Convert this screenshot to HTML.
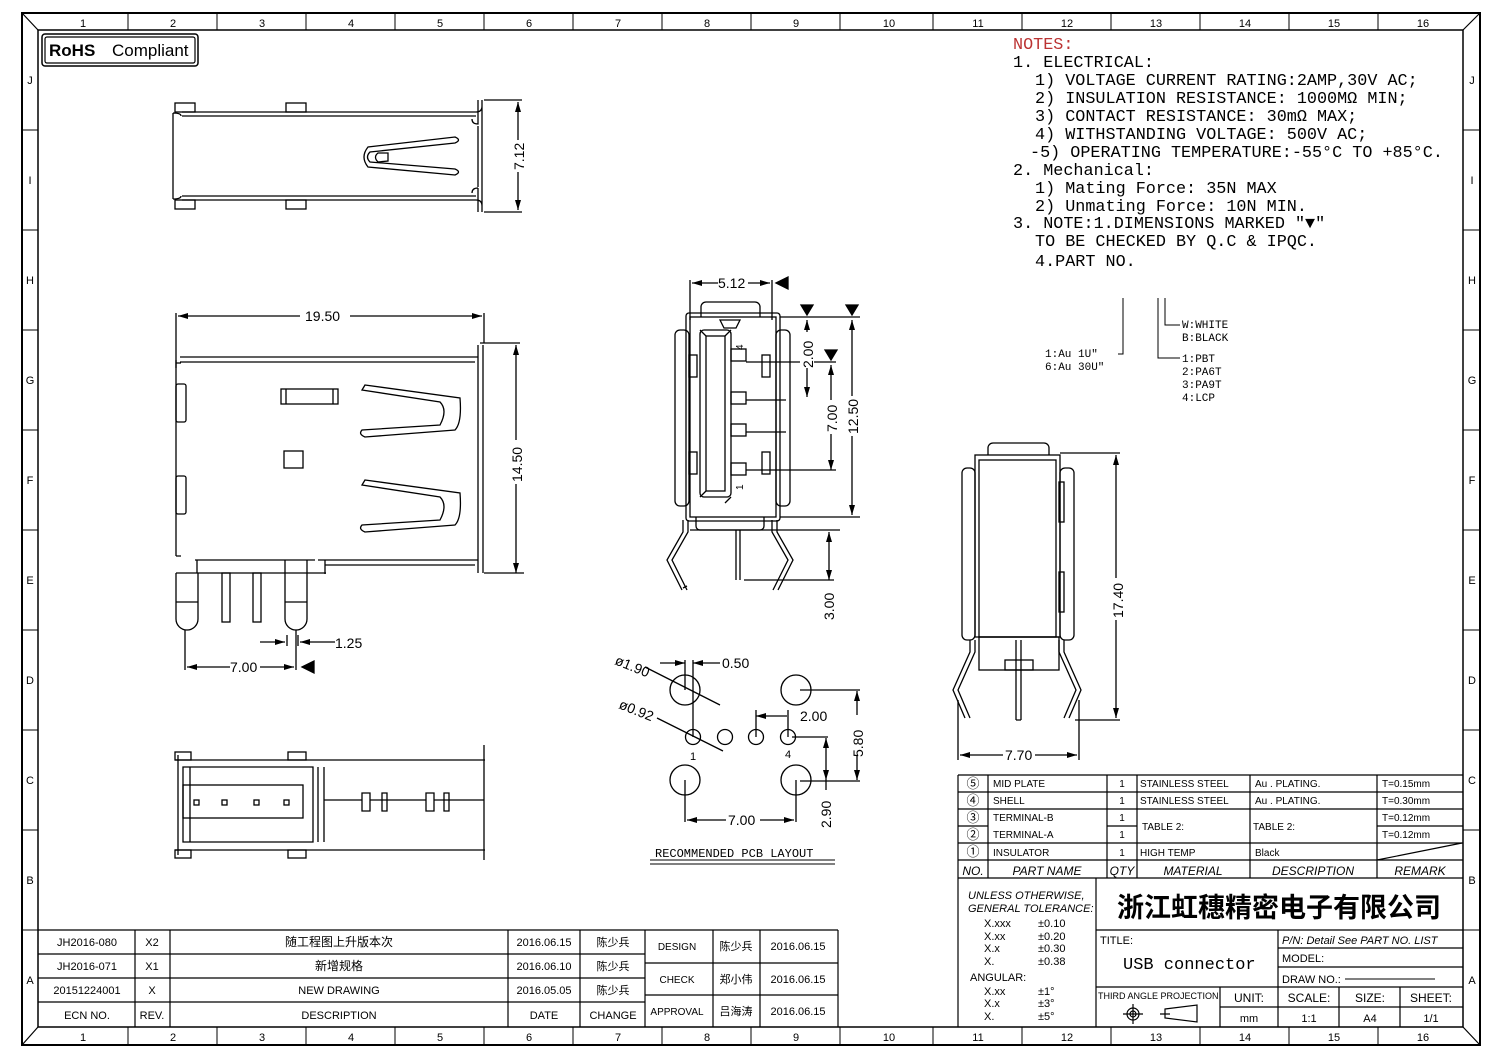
<!DOCTYPE html>
<html><head><meta charset="utf-8"><style>
html,body{margin:0;padding:0;background:#fff}
svg{display:block}
text{font-family:"Liberation Sans","Noto Sans CJK SC",sans-serif;fill:#000}
.m{font-family:"Liberation Mono","Noto Sans CJK SC",monospace}
</style></head><body>
<svg width="1502" height="1059" viewBox="0 0 1502 1059" xmlns="http://www.w3.org/2000/svg" fill="none" stroke="#000" stroke-width="1.2">
<defs><marker id="a" markerWidth="10" markerHeight="6" refX="10" refY="3" orient="auto-start-reverse" markerUnits="userSpaceOnUse"><path d="M0,0L10,3L0,6z" fill="#000" stroke="none"/></marker></defs>
<!-- borders -->
<rect x="22" y="13" width="1458" height="1032" stroke-width="2"/>
<rect x="38" y="30" width="1425" height="997" stroke-width="1.5"/>
<path d="M22,13L38,30M1480,13L1463,30M22,1045L38,1027M1480,1045L1463,1027"/>
<g stroke-width="1">
<path d="M128,13v17M217,13v17M306,13v17M395,13v17M484,13v17M573,13v17M662,13v17M751,13v17M840,13v17M933,13v17M1022,13v17M1111,13v17M1200,13v17M1289,13v17M1378,13v17"/>
<path d="M128,1027v18M217,1027v18M306,1027v18M395,1027v18M484,1027v18M573,1027v18M662,1027v18M751,1027v18M840,1027v18M933,1027v18M1022,1027v18M1111,1027v18M1200,1027v18M1289,1027v18M1378,1027v18"/>
<path d="M22,130h16M22,230h16M22,330h16M22,430h16M22,530h16M22,630h16M22,730h16M22,830h16M22,930h16M1463,130h17M1463,230h17M1463,330h17M1463,430h17M1463,530h17M1463,630h17M1463,730h17M1463,830h17M1463,930h17"/>
</g>
<g font-size="11" stroke="none" text-anchor="middle">
<text x="83" y="27">1</text><text x="173" y="27">2</text><text x="262" y="27">3</text><text x="351" y="27">4</text><text x="440" y="27">5</text><text x="529" y="27">6</text><text x="618" y="27">7</text><text x="707" y="27">8</text><text x="796" y="27">9</text><text x="889" y="27">10</text><text x="978" y="27">11</text><text x="1067" y="27">12</text><text x="1156" y="27">13</text><text x="1245" y="27">14</text><text x="1334" y="27">15</text><text x="1423" y="27">16</text>
<text x="83" y="1041">1</text><text x="173" y="1041">2</text><text x="262" y="1041">3</text><text x="351" y="1041">4</text><text x="440" y="1041">5</text><text x="529" y="1041">6</text><text x="618" y="1041">7</text><text x="707" y="1041">8</text><text x="796" y="1041">9</text><text x="889" y="1041">10</text><text x="978" y="1041">11</text><text x="1067" y="1041">12</text><text x="1156" y="1041">13</text><text x="1245" y="1041">14</text><text x="1334" y="1041">15</text><text x="1423" y="1041">16</text>
<text x="30" y="84">J</text><text x="30" y="184">I</text><text x="30" y="284">H</text><text x="30" y="384">G</text><text x="30" y="484">F</text><text x="30" y="584">E</text><text x="30" y="684">D</text><text x="30" y="784">C</text><text x="30" y="884">B</text><text x="30" y="984">A</text>
<text x="1472" y="84">J</text><text x="1472" y="184">I</text><text x="1472" y="284">H</text><text x="1472" y="384">G</text><text x="1472" y="484">F</text><text x="1472" y="584">E</text><text x="1472" y="684">D</text><text x="1472" y="784">C</text><text x="1472" y="884">B</text><text x="1472" y="984">A</text>
</g>
<!-- RoHS -->
<rect x="42" y="34" width="156" height="32" rx="3" stroke-width="1.5"/><rect x="45" y="37" width="150" height="26" rx="2"/>
<text x="49" y="56" font-size="17" stroke="none" font-weight="bold">RoHS</text><text x="112" y="56" font-size="17" stroke="none">Compliant</text>

<!-- NOTES -->
<g class="m" font-size="16.8" stroke="none">
<text x="1013" y="49" class="m" style="fill:#b33">NOTES:</text>
<text x="1013" y="67" class="m">1. ELECTRICAL:</text>
<text x="1035" y="85" class="m">1) VOLTAGE CURRENT RATING:2AMP,30V AC;</text>
<text x="1035" y="103" class="m">2) INSULATION RESISTANCE: 1000MΩ MIN;</text>
<text x="1035" y="121" class="m">3) CONTACT RESISTANCE: 30mΩ MAX;</text>
<text x="1035" y="139" class="m">4) WITHSTANDING VOLTAGE: 500V AC;</text>
<text x="1030" y="157" class="m">-5) OPERATING TEMPERATURE:-55°C TO +85°C.</text>
<text x="1013" y="175" class="m">2. Mechanical:</text>
<text x="1035" y="193" class="m">1) Mating Force:  35N MAX</text>
<text x="1035" y="211" class="m">2) Unmating Force:  10N MIN.</text>
<text x="1013" y="228" class="m">3. NOTE:1.DIMENSIONS MARKED "▼"</text>
<text x="1035" y="246" class="m">TO BE CHECKED BY Q.C &amp; IPQC.</text>
<text x="1035" y="266" class="m">4.PART NO.</text>
</g>
<path d="M1123,298v56h-5M1158,298v60h22M1165,298v27h15" stroke-width="1"/>
<g font-size="11" stroke="none" class="m">
<text x="1045" y="357" class="m">1:Au 1U"</text><text x="1045" y="370" class="m">6:Au 30U"</text>
<text x="1182" y="328" class="m">W:WHITE</text><text x="1182" y="341" class="m">B:BLACK</text>
<text x="1182" y="362" class="m">1:PBT</text><text x="1182" y="375" class="m">2:PA6T</text><text x="1182" y="388" class="m">3:PA9T</text><text x="1182" y="401" class="m">4:LCP</text>
</g>

<!-- TOP VIEW -->
<g stroke-width="1.3">
<path d="M182,112h294M182,116h294M182,196h294M182,200h294"/>
<path d="M173,113v86M173,113q8,0 8,3M173,199q8,0 8,-3"/>
<rect x="175" y="103" width="20" height="9"/><rect x="286" y="103" width="20" height="9"/><rect x="175" y="200" width="20" height="9"/><rect x="286" y="200" width="20" height="9"/>
<path d="M478,100v24q-6,0 -6,-5M478,188v24M478,188q-6,0 -6,5M482,100v112M478,126v61M476,112q6,0 6,-6M476,200q6,0 6,6"/>
<path d="M455,137Q462,140 455,143L370,152Q365,157 370,162L455,169Q462,172 455,175L368,167Q360,157 368,147Z"/>
<path d="M388,153L378,153Q373,157 378,162L388,161Z"/>
<path d="M484,100h38M484,212h38"/>
<line x1="518" y1="102" x2="518" y2="210" marker-start="url(#a)" marker-end="url(#a)"/>
</g>
<rect x="510" y="140" width="16" height="32" fill="#fff" stroke="none"/>
<text font-size="14" stroke="none" transform="translate(524,170) rotate(-90)">7.12</text>

<!-- FRONT VIEW -->
<g stroke-width="1.3">
<path d="M180,357h295M180,362h295"/>
<path d="M176,360v196M176,363h5M176,556h5"/>
<path d="M478,345v228M483,345v228M478,357h-3M474,560h4M318,560h157M325,565h150M325,560v14"/>
<rect x="176" y="384" width="10" height="38" rx="2"/><rect x="176" y="476" width="10" height="38" rx="2"/>
<rect x="281" y="389" width="57" height="15"/><path d="M286,389v15M333,389v15"/>
<rect x="284" y="451" width="19" height="17"/>
<path d="M365,385L460,398Q462,423 455,430L365,437Q358,434 362,430L440,425Q448,410 440,402L362,390Z"/>
<path d="M365,480L460,493Q462,518 455,525L365,532Q358,529 362,525L440,520Q448,505 440,497L362,485Z"/>
<path d="M176,573h150M195,560h120"/>
<path d="M176,573v46a11,11 0 0 0 22,0v-46M197,560v13"/>
<path d="M285,573v46a11,11 0 0 0 22,0v-46M285,560v13M307,560v13"/>
<path d="M176,602h22M285,602h22"/>
<rect x="222" y="573" width="8" height="49"/><rect x="253" y="573" width="8" height="49"/>
<path d="M176,313v55M484,313v30M480,343h40M484,573h40"/>
<line x1="178" y1="316" x2="482" y2="316" marker-start="url(#a)" marker-end="url(#a)"/>
<line x1="516" y1="345" x2="516" y2="573" marker-start="url(#a)" marker-end="url(#a)"/>
<path d="M185,630v40M296,630v40M287,635v11M298,635v11"/>
<line x1="187" y1="667" x2="294" y2="667" marker-start="url(#a)" marker-end="url(#a)"/>
<path d="M302,667l12,-6v12z" fill="#000"/>
<line x1="260" y1="642" x2="285" y2="642" marker-end="url(#a)"/><line x1="335" y1="642" x2="300" y2="642" marker-end="url(#a)"/>
</g>
<g font-size="14" stroke="none"><rect x="300" y="308" width="50" height="14" fill="#fff"/><text x="305" y="321">19.50</text>
<rect x="230" y="660" width="30" height="14" fill="#fff"/><text x="230" y="672">7.00</text>
<text x="335" y="648">1.25</text>
<rect x="508" y="440" width="16" height="44" fill="#fff"/>
<text transform="translate(522,482) rotate(-90)">14.50</text></g>

<!-- BOTTOM LEFT VIEW -->
<g stroke-width="1.3">
<path d="M175,760h310M175,850h310M178,755v100M484,745v115"/>
<rect x="175" y="752" width="16" height="8"/><rect x="288" y="752" width="18" height="8"/><rect x="175" y="850" width="16" height="8"/><rect x="288" y="850" width="18" height="8"/>
<path d="M183,767h130v75h-130zM190,767v75M324,767v75M318,767v75"/>
<rect x="183" y="785" width="120" height="33"/>
<rect x="194" y="800" width="5" height="5"/><rect x="222" y="800" width="5" height="5"/><rect x="254" y="800" width="5" height="5"/><rect x="284" y="800" width="5" height="5"/>
<path d="M324,800h38M370,800h56M434,800h50M362,793h8v18h-8zM426,793h8v18h-8zM382,793h5v18h-5zM444,793h5v18h-5z"/>
</g>

<!-- SIDE VIEW -->
<g stroke-width="1.3">
<path d="M690,280v40M772,280v40"/>
<line x1="692" y1="283" x2="770" y2="283" marker-start="url(#a)" marker-end="url(#a)"/>
<path d="M776,283l12,-6v12z" fill="#000"/>
<rect x="690" y="317" width="86" height="200"/><rect x="686" y="313" width="94" height="208" rx="3"/>
<path d="M701,317v-10a5,5 0 0 1 5,-5h49a5,5 0 0 1 5,5v10"/>
<path d="M720,320l4,8h12l4,-8z"/>
<rect x="675" y="330" width="14" height="176" rx="5"/><rect x="776" y="330" width="14" height="176" rx="5"/>
<rect x="700" y="330" width="31" height="167" rx="4"/><rect x="706" y="336" width="19" height="155"/>
<path d="M700,330l6,6M731,330l-6,6M700,497l6,-6M731,497l-6,6"/>
<rect x="731" y="349" width="15" height="12"/><rect x="731" y="392" width="15" height="12"/><rect x="731" y="424" width="15" height="12"/><rect x="731" y="463" width="15" height="12"/>
<rect x="689" y="355" width="8" height="22"/><rect x="689" y="452" width="8" height="22"/><rect x="762" y="355" width="8" height="22"/><rect x="762" y="452" width="8" height="22"/>
<path d="M746,362h90M746,400h40M746,432h40M746,470h90"/>
<path d="M780,317h80M780,517h80"/>
<path d="M696,517v9a4,4 0 0 0 4,4h60a4,4 0 0 0 4,-4v-9"/>
<path d="M690,530h80M736,530v50M740,530v50M744,580h90M770,530h70"/>
<path d="M688,520v12L672,560l15,30M683,520v12L667,560l15,30M683,588l4,-2"/>
<path d="M772,520v12l16,28l-15,30M777,520v12l16,28l-15,30"/>
<line x1="807" y1="320" x2="807" y2="397" marker-start="url(#a)" marker-end="url(#a)"/>
<line x1="831" y1="365" x2="831" y2="470" marker-start="url(#a)" marker-end="url(#a)"/>
<line x1="852" y1="320" x2="852" y2="515" marker-start="url(#a)" marker-end="url(#a)"/>
<line x1="829" y1="532" x2="829" y2="580" marker-start="url(#a)" marker-end="url(#a)"/>
<path d="M801,305h12l-6,10zM846,305h12l-6,10zM825,350h12l-6,10z" fill="#000"/>
</g>
<g font-size="14" stroke="none"><rect x="718" y="276" width="30" height="14" fill="#fff"/><text x="718" y="288">5.12</text>
<rect x="800" y="332" width="14" height="36" fill="#fff"/><text transform="translate(813,368) rotate(-90)">2.00</text>
<rect x="824" y="400" width="14" height="34" fill="#fff"/><text transform="translate(837,432) rotate(-90)">7.00</text>
<rect x="845" y="396" width="14" height="40" fill="#fff"/><text transform="translate(858,434) rotate(-90)">12.50</text>
<text transform="translate(834,620) rotate(-90)">3.00</text>
<text font-size="10" transform="translate(743,350) rotate(-90)">4</text>
<text font-size="10" transform="translate(743,490) rotate(-90)">1</text></g>

<!-- RIGHT VIEW -->
<g stroke-width="1.3">
<rect x="975" y="455" width="85" height="182"/><rect x="979" y="460" width="77" height="177"/>
<path d="M988,455v-7a5,5 0 0 1 5,-5h51a5,5 0 0 1 5,5v7"/>
<rect x="962" y="468" width="13" height="172" rx="5"/><rect x="1060" y="468" width="14" height="172" rx="5"/>
<rect x="1059" y="482" width="5" height="40"/><rect x="1059" y="572" width="5" height="40"/>
<rect x="979" y="637" width="80" height="33"/><rect x="1005" y="660" width="28" height="10"/>
<path d="M1016,640v80M1021,640v80M1016,720h5"/>
<path d="M975,640v12L958,690l12,28M970,640v12L953,690l12,28M1059,640v12l17,38l-12,28M1064,640v12l17,38l-12,28"/>
<path d="M1060,453h60M1075,720h45M958,700v60M1079,700v60"/>
<line x1="1116" y1="455" x2="1116" y2="718" marker-start="url(#a)" marker-end="url(#a)"/>
<line x1="960" y1="755" x2="1077" y2="755" marker-start="url(#a)" marker-end="url(#a)"/>
</g>
<g font-size="14" stroke="none"><rect x="1003" y="748" width="32" height="14" fill="#fff"/><text x="1005" y="760">7.70</text>
<rect x="1109" y="578" width="14" height="42" fill="#fff"/><text transform="translate(1123,618) rotate(-90)">17.40</text></g>

<!-- PCB LAYOUT -->
<g stroke-width="1.3">
<circle cx="685" cy="690" r="15"/><circle cx="796" cy="690" r="15"/><circle cx="685" cy="780" r="15"/><circle cx="796" cy="780" r="15"/>
<circle cx="693" cy="737" r="7.5"/><circle cx="725" cy="737" r="7.5"/><circle cx="756" cy="737" r="7.5"/><circle cx="788" cy="737" r="7.5"/>
<path d="M685,660v30M693,660v77M685,780v42M796,780v42"/>
<path d="M756,710v27M788,710v27M800,690h60M800,781h60M792,737h36"/>
<path d="M645,667l75,38M657,718l66,33"/>
<line x1="660" y1="663" x2="685" y2="663" marker-end="url(#a)"/>
<line x1="720" y1="663" x2="693" y2="663" marker-end="url(#a)"/>
<line x1="787" y1="716" x2="756" y2="716" marker-end="url(#a)"/>
<line x1="857" y1="691" x2="857" y2="780" marker-start="url(#a)" marker-end="url(#a)"/>
<line x1="826" y1="738" x2="826" y2="780" marker-start="url(#a)" marker-end="url(#a)"/>
<path d="M826,780v10"/>
<line x1="687" y1="820" x2="794" y2="820" marker-start="url(#a)" marker-end="url(#a)"/>
<path d="M650,860h185M650,864h185" stroke-width="1"/>
</g>
<g font-size="14" stroke="none">
<text x="614" y="664" transform="rotate(22 614 664)">ø1.90</text>
<text x="722" y="668">0.50</text>
<text x="618" y="708" transform="rotate(22 618 708)">ø0.92</text>
<text x="800" y="721">2.00</text>
<text x="690" y="760" font-size="11">1</text><text x="785" y="758" font-size="11">4</text>
<rect x="726" y="813" width="34" height="14" fill="#fff"/><text x="728" y="825">7.00</text>
<rect x="850" y="715" width="14" height="40" fill="#fff"/><text transform="translate(863,757) rotate(-90)">5.80</text>
<text transform="translate(831,828) rotate(-90)">2.90</text>
<text x="655" y="857" font-size="12" class="m">RECOMMENDED PCB LAYOUT</text></g>

<!-- PARTS TABLE -->
<g stroke-width="1.2">
<path d="M958,775h505M958,792h505M958,809h505M958,826h30M1107,826h30M1377,826h86M958,843h505M958,860h505M958,878h505"/>
<path d="M958,775v252M988,775v103M1107,775v103M1137,775v103M1250,775v103M1377,775v103M1377,860L1462,843"/>
</g>
<g font-size="11" stroke="none">
<g font-size="13" text-anchor="middle"><text x="973" y="788">⑤</text><text x="973" y="805">④</text><text x="973" y="822">③</text><text x="973" y="839">②</text><text x="973" y="856">①</text></g>
<text x="993" y="787" font-size="10">MID PLATE</text><text x="993" y="804" font-size="10">SHELL</text><text x="993" y="821" font-size="10">TERMINAL-B</text><text x="993" y="838" font-size="10">TERMINAL-A</text><text x="993" y="856" font-size="10">INSULATOR</text>
<g text-anchor="middle" font-size="10"><text x="1122" y="787">1</text><text x="1122" y="804">1</text><text x="1122" y="821">1</text><text x="1122" y="838">1</text><text x="1122" y="856">1</text></g>
<text x="1140" y="787" font-size="10">STAINLESS STEEL</text><text x="1140" y="804" font-size="10">STAINLESS STEEL</text><text x="1142" y="830" font-size="10">TABLE 2:</text><text x="1140" y="856" font-size="10">HIGH TEMP</text>
<text x="1255" y="787" font-size="10">Au . PLATING.</text><text x="1255" y="804" font-size="10">Au . PLATING.</text><text x="1253" y="830" font-size="10">TABLE 2:</text><text x="1255" y="856" font-size="10">Black</text>
<text x="1382" y="787" font-size="10">T=0.15mm</text><text x="1382" y="804" font-size="10">T=0.30mm</text><text x="1382" y="821" font-size="10">T=0.12mm</text><text x="1382" y="838" font-size="10">T=0.12mm</text>
<g font-size="12" text-anchor="middle" font-style="italic"><text x="973" y="875">NO.</text><text x="1047" y="875">PART NAME</text><text x="1122" y="875">QTY</text><text x="1193" y="875">MATERIAL</text><text x="1313" y="875">DESCRIPTION</text><text x="1420" y="875">REMARK</text></g>
</g>

<!-- TITLE BLOCK -->
<g stroke-width="1.2">
<path d="M1096,878v149M1096,930h367M1278,930v57M1278,948h185M1278,967h185M1096,987h367M1220,987v40M1220,1007h243M1278,987v40M1339,987v40M1400,987v40"/>
<path d="M1345,979h90" stroke-width="1"/>
<circle cx="1133" cy="1014" r="6"/><circle cx="1133" cy="1014" r="3"/><path d="M1123,1014h20M1133,1004v20"/>
<path d="M1165,1009l32,-4v17l-32,-4zM1160,1014h10"/>
</g>
<g stroke="none">
<text x="968" y="899" font-size="11" font-style="italic">UNLESS OTHERWISE,</text>
<text x="968" y="912" font-size="11" font-style="italic">GENERAL TOLERANCE:</text>
<g font-size="11"><text x="984" y="927">X.xxx</text><text x="1038" y="927">±0.10</text>
<text x="984" y="940">X.xx</text><text x="1038" y="940">±0.20</text>
<text x="984" y="952">X.x</text><text x="1038" y="952">±0.30</text>
<text x="984" y="965">X.</text><text x="1038" y="965">±0.38</text>
<text x="970" y="981">ANGULAR:</text>
<text x="984" y="995">X.xx</text><text x="1038" y="995">±1°</text>
<text x="984" y="1007">X.x</text><text x="1038" y="1007">±3°</text>
<text x="984" y="1020">X.</text><text x="1038" y="1020">±5°</text></g>
<text x="1279" y="917" font-size="27" font-weight="bold" text-anchor="middle" style="font-family:'Noto Sans CJK SC',sans-serif">浙江虹穗精密电子有限公司</text>
<text x="1100" y="944" font-size="11">TITLE:</text>
<text x="1123" y="969" font-size="17" style="font-family:'Liberation Mono',monospace">USB connector</text>
<text x="1282" y="944" font-size="11" font-style="italic">P/N: Detail  See  PART  NO.  LIST</text>
<text x="1282" y="962" font-size="11">MODEL:</text>
<text x="1282" y="983" font-size="11">DRAW  NO.:</text>
<text x="1098" y="999" font-size="9">THIRD ANGLE PROJECTION</text>
<g font-size="12" text-anchor="middle"><text x="1249" y="1002">UNIT:</text><text x="1309" y="1002">SCALE:</text><text x="1370" y="1002">SIZE:</text><text x="1431" y="1002">SHEET:</text>
<text x="1249" y="1022" font-size="11">mm</text><text x="1309" y="1022" font-size="11">1:1</text><text x="1370" y="1022" font-size="11">A4</text><text x="1431" y="1022" font-size="11">1/1</text></g>
</g>

<!-- REVISION TABLE -->
<g stroke-width="1.2">
<path d="M38,930h800M38,954h607M38,978h607M38,1002h607M645,963h193M645,995h193"/>
<path d="M135,930v97M170,930v97M508,930v97M580,930v97M645,930v97M713,930v97M760,930v97M838,930v97"/>
</g>
<g font-size="11" stroke="none" text-anchor="middle">
<text x="87" y="946">JH2016-080</text><text x="152" y="946">X2</text><text x="339" y="946" style="font-family:'Noto Sans CJK SC',sans-serif" font-size="12">随工程图上升版本次</text><text x="544" y="946">2016.06.15</text><text x="613" y="946" style="font-family:'Noto Sans CJK SC',sans-serif">陈少兵</text>
<text x="87" y="970">JH2016-071</text><text x="152" y="970">X1</text><text x="339" y="970" style="font-family:'Noto Sans CJK SC',sans-serif" font-size="12">新增规格</text><text x="544" y="970">2016.06.10</text><text x="613" y="970" style="font-family:'Noto Sans CJK SC',sans-serif">陈少兵</text>
<text x="87" y="994">20151224001</text><text x="152" y="994">X</text><text x="339" y="994">NEW DRAWING</text><text x="544" y="994">2016.05.05</text><text x="613" y="994" style="font-family:'Noto Sans CJK SC',sans-serif">陈少兵</text>
<text x="87" y="1019">ECN NO.</text><text x="152" y="1019">REV.</text><text x="339" y="1019">DESCRIPTION</text><text x="544" y="1019">DATE</text><text x="613" y="1019">CHANGE</text>
<text x="677" y="950" font-size="10">DESIGN</text><text x="736" y="950" style="font-family:'Noto Sans CJK SC',sans-serif">陈少兵</text><text x="798" y="950">2016.06.15</text>
<text x="677" y="983" font-size="10">CHECK</text><text x="736" y="983" style="font-family:'Noto Sans CJK SC',sans-serif">郑小伟</text><text x="798" y="983">2016.06.15</text>
<text x="677" y="1015" font-size="10">APPROVAL</text><text x="736" y="1015" style="font-family:'Noto Sans CJK SC',sans-serif">吕海涛</text><text x="798" y="1015">2016.06.15</text>
</g>
</svg>
</body></html>
